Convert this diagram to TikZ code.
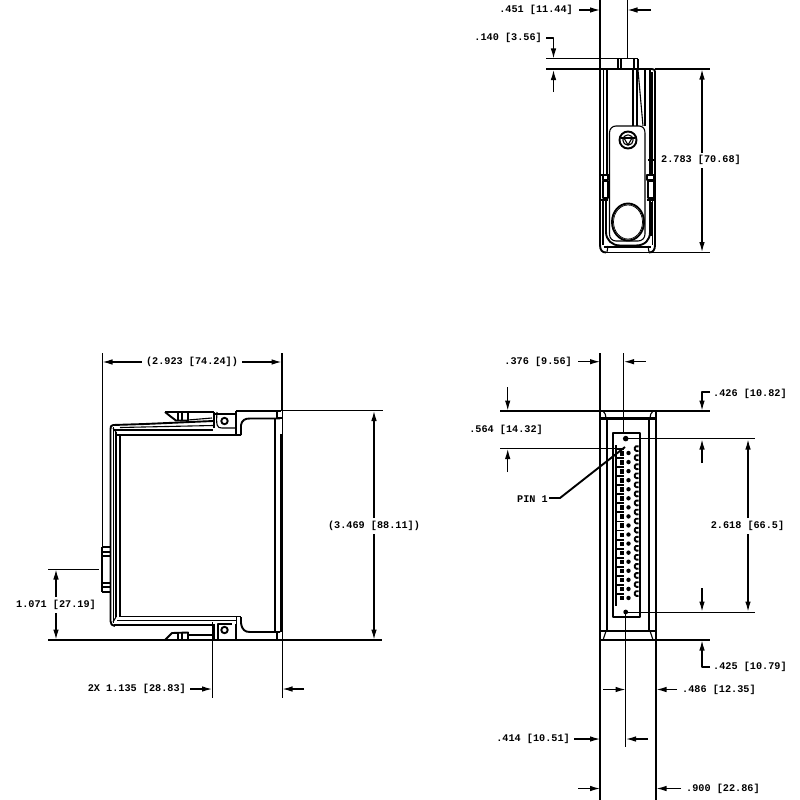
\documentclass[tikz,border=0pt]{standalone}
\usepackage{fontspec}
\setmonofont{Liberation Mono}
\usetikzlibrary{arrows.meta}
\tikzset{
  dim/.style={font=\ttfamily\bfseries\fontsize{10.2}{10.2}\selectfont,inner sep=0pt,text=black},
  ext/.style={line width=1pt},
  extb/.style={line width=1.7pt},
  lead/.style={line width=1.1pt,-{Latex[length=10pt,width=5.5pt]}},
  thin line/.style={line width=0.7pt},
  med/.style={line width=1.1pt},
  heavy/.style={line width=1.9pt},
  heavier/.style={line width=2.8pt}
}
\begin{document}
\begin{tikzpicture}[x=1pt,y=-1pt,line join=round]
\useasboundingbox (0,0) rectangle (800,800);
\fill[white] (0,0) rectangle (800,800);

%% ---------- TOP VIEW ----------
\node[dim,anchor=east] (t451) at (573,10) {.451 [11.44]};
\node[dim,anchor=east] (t140) at (542,38) {.140 [3.56]};
\node[dim,anchor=west] (t2783) at (661,160) {2.783 [70.68]};
\coordinate (a451l) at (600,10); \coordinate (a451r) at (627.5,10);
\draw[lead] (579,10) -- (a451l);
\draw[lead] (651,10) -- (a451r);
\draw[extb] (600,0) -- (600,69);
\draw[ext] (627,0) -- (627,58);
\draw[ext] (546,59) -- (638,59);
\draw[extb] (546,69) -- (600,69) (655,69) -- (710,69);
\draw[ext] (648,252.5) -- (710,252.5);
\draw[lead] (546,38) -- (553.5,38) -- (553.5,58.5);
\draw[lead] (553.5,92) -- (553.5,70);
\draw[lead] (702,153) -- (702,69.5);
\draw[lead] (702,168) -- (702,252);
% tab
\draw[med] (618,59) -- (618,69) (638,59) -- (638,69) (621,59) -- (621,69) (634,59) -- (634,69);
% body outline
\draw[heavy] (600,69) -- (600,245) .. controls (600,250) and (602,252.5) .. (606,252.5);
\draw[med] (600,69) -- (652,69);
\draw[med] (606,252.5) -- (649,252.5);
\draw[heavy] (652,69) .. controls (654,69) and (655,70) .. (655,72) -- (655,175);
\draw[heavy] (655,175) -- (655,245) .. controls (655,250) and (653,252.5) .. (649,252.5);
% long lines
\draw[med] (603.5,70) -- (603.5,175) (607,70) -- (607,175);
\draw[med] (650,70) -- (650,175) (645,70) -- (645,126) ;
\draw[med] (633,70) -- (633,126);
\draw[med] (637,70) -- (637,126);
\draw[med] (638,70) -- (643,126);
\draw[med] (652,72) -- (652,175);
\draw[heavy] (648,160) -- (654,160);
% side pieces
\draw[med] (603,175) rectangle (608,180);
\draw[med] (647,175) rectangle (654,180);
\draw[med] (603,181) rectangle (608,198);
\draw[med] (648,181) rectangle (654,198);
\draw[heavy] (601,175) -- (609,175) (647,175) -- (655,175);
\draw[heavy] (601,200) -- (608,200);
\draw[heavier] (647,200) -- (654,200);
% lower sides
\draw[heavy] (606,200) -- (606,232) .. controls (606,240) and (612,245.5) .. (620,245.5) -- (636,245.5) .. controls (645,245.5) and (650,240) .. (650,232) -- (650,200);
\draw[med] (603,200) -- (603,245) (652.5,200) -- (652.5,245);
\draw[heavier] (650.5,202) -- (650.5,236);
% bottom plate
\draw[med] (603.5,247) -- (651,247);
\draw[med] (608,246) -- (607,252) (648,246) -- (649,252);
% plate
\draw[med,fill=white] (609.5,234) -- (609.5,133) .. controls (609.5,129) and (612,126) .. (616,126) -- (639,126) .. controls (643,126) and (645,129) .. (645,133) -- (645,234) .. controls (645,238) and (642,241) .. (638,241) -- (616,241) .. controls (612,241) and (609.5,238) .. (609.5,234) -- cycle;
% screw
\draw[heavy,fill=white] (628,140) circle[radius=8.5];
\draw[med] (628,140) circle[radius=5.2];
\draw[med] (621,138) -- (635,138);
\draw[med] (624,138) -- (628,145) -- (632,138);
% big circle
\draw[heavy,fill=white] (628,222) ellipse[x radius=16,y radius=18.5];
\draw[thin line] (628,222) ellipse[x radius=14.5,y radius=17];

%% ---------- SIDE VIEW ----------
\node[dim] (t2923) at (192,362) {(2.923 [74.24])};
\node[dim] (t3469) at (374,526) {(3.469 [88.11])};
\node[dim] (t1071) at (56,605) {1.071 [27.19]};
\node[dim,anchor=east] (t1135) at (186,689) {2X 1.135 [28.83]};
\draw[ext] (102,353) -- (102,548);
\draw[extb] (282,353) -- (282,411);
\draw[ext] (282,411) -- (282,698);
\draw[ext] (236,410.5) -- (383,410.5);
\draw[extb] (48,640) -- (382,640);
\draw[ext] (48,569) -- (99,569);
\draw[ext] (212,622) -- (212,698);
\draw[lead] (t2923.west) ++(-4,0) -- (102.5,362);
\draw[lead] (t2923.east) ++(4,0) -- (281.5,362);
\draw[lead] (374,518) -- (374,411);
\draw[lead] (374,534) -- (374,639.5);
\draw[lead] (56,597) -- (56,569.5);
\draw[lead] (56,613) -- (56,639.5);
\draw[lead] (t1135.east) ++(4,0) -- (212,689);
\draw[lead] (304,689) -- (282.5,689);
% connector tab
\draw[med] (102,547) -- (110,547) (102,552) -- (110,552) (102,556) -- (110,556) (102,583) -- (110,583) (102,587) -- (110,587) (102,592) -- (110,592);
\draw[heavy] (102,547) -- (102,592);
% left wall
\draw[heavy] (113,425) .. controls (111,425) and (110.5,427) .. (110.5,429) -- (110.5,621) .. controls (110.5,624) and (112,626) .. (115,626);
\draw[med] (116,432) -- (116,617) (120,436) -- (120,617);
\draw[med] (113,428) -- (116,432) (113,622) -- (116,617);
\draw[med] (113.5,427) -- (113.5,623);
% top wall
\draw[heavy] (113,425) -- (145,424) -- (213,421);
\draw[heavy] (113,430) -- (213,430);
\draw[med] (120,427.5) -- (213,425.5);
\draw[heavier] (116,435) -- (241,435);
\draw[med] (236,428) -- (236,435);
\draw[heavy] (241,435) -- (241,425) .. controls (242,420) and (245,418.5) .. (250,418.5) -- (280,418.5);
\draw[ext] (236,411) -- (281,411);
% top hinge
\draw[heavy] (214,412) -- (214,428);
\draw[heavy] (236,411) -- (236,428);
\draw[med] (217,412) .. controls (216,426) and (217,428) .. (222,428) -- (236,428);
\draw[heavy] (224.5,421) circle[radius=3.2];
\draw[med] (214,414) -- (236,414);
% top latch
\draw[med] (165,412) -- (214,412);
\draw[heavy] (165,412) -- (170,416) -- (176,420.5) -- (188,420.5) -- (188,413);
\draw[med] (178,413) -- (178,420) (182,413) -- (182,420);
\draw[med] (188,420) -- (212,418);
% right wall
\draw[med] (275,418) -- (275,632);
\draw[heavy] (281,434) -- (281,632);
\draw[med] (277,411) -- (277,418) (276,418) -- (282,418);
% bottom wall
\draw[heavier] (114,625) -- (213,625);
\draw[heavy] (120,616.5) -- (241,616.5);
\draw[heavy] (117,620.5) -- (236,620.5);
\draw[heavy] (241,617) -- (241,623) .. controls (242,630) and (245,632) .. (250,632) -- (280,632);
\draw[ext] (236,617) -- (236,640);
% bottom hinge
\draw[heavy] (214,624) -- (214,640);
\draw[heavy] (235.5,624) -- (235.5,640);
\draw[med] (218,640) -- (218,624) -- (232,624);
\draw[heavy] (224.5,630) circle[radius=3.2];
% bottom latch
\draw[heavy] (165,640) -- (172,633) -- (188,632.5) -- (188,640);
\draw[med] (178,633) -- (178,640) (182,633) -- (182,640);
\draw[med] (188,635) -- (212,635);
\draw[med] (277,632) -- (277,640);

%% ---------- FRONT VIEW ----------
\node[dim,anchor=east] (t376) at (572,361.7) {.376 [9.56]};
\node[dim,anchor=west] (t426) at (713,394) {.426 [10.82]};
\node[dim,anchor=east] (t564) at (543,430) {.564 [14.32]};
\node[dim,anchor=east] (pin1) at (548,499) {PIN 1};
\node[dim] (t2618) at (747.5,526) {2.618 [66.5]};
\node[dim,anchor=west] (t425) at (713,667) {.425 [10.79]};
\node[dim,anchor=west] (t486) at (682,690) {.486 [12.35]};
\node[dim,anchor=east] (t414) at (570,739) {.414 [10.51]};
\node[dim,anchor=west] (t900) at (686,789) {.900 [22.86]};
% extension lines
\draw[extb] (600,353) -- (600,411);
\draw[extb] (600,640) -- (600,800);
\draw[extb] (656,640) -- (656,800);
\draw[ext] (623.5,353) -- (623.5,433);
\draw[ext] (625.7,612) -- (625.7,747);
\draw[extb] (500,411) -- (600,411) (656,411) -- (710,411);
\draw[ext] (500,448.6) -- (622,448.6);
\draw[extb] (623,438.6) -- (755,438.6);
\draw[ext] (625,612) -- (755,612);
\draw[extb] (656,640) -- (710,640);
% leaders and arrows
\draw[lead] (578,361.7) -- (600,361.7);
\draw[lead] (645.5,361.7) -- (624,361.7);
\draw[lead] (507.7,387) -- (507.7,410.5);
\draw[lead] (507.7,472) -- (507.7,449);
\draw[lead] (710,392) -- (702,392) -- (702,410.5);
\draw[lead] (702,463) -- (702,439.5);
\draw[lead] (702,588) -- (702,611.5);
\draw[lead] (748,518) -- (748,439.5);
\draw[lead] (748,534) -- (748,611.5);
\draw[lead] (710,667) -- (702,667) -- (702,640.5);
\draw[lead] (603,689.5) -- (625.5,689.5);
\draw[lead] (677,689.5) -- (656.5,689.5);
\draw[lead] (574,739) -- (600,739);
\draw[lead] (648,739) -- (626,739);
\draw[lead] (578,788.5) -- (600,788.5);
\draw[lead] (681,788.5) -- (656.5,788.5);
\draw[heavy] (pin1.east) ++(1,-1) -- (560,498) -- (625,447);
% body
\draw[heavy] (600,411) -- (600,640) (656,411) -- (656,640);
\draw[heavier] (600,418.5) -- (656,418.5);
\draw[heavier] (600,631) -- (656,631);
\draw[med] (607,418) -- (607,631) (649,418) -- (649,631);
\draw[med] (600,411) -- (656,411);
\draw[med] (603,411) .. controls (605,413) and (606,415) .. (606,418);
\draw[med] (653,411) .. controls (651,413) and (650,415) .. (650,418);
\draw[med] (600,640) -- (656,640);
\draw[med] (603,640) -- (606,631) (653,640) -- (650,631);
% connector
\draw[heavy] (613,433) rectangle (640,617);
\draw[med] (616,445) -- (616,606);
\fill (625.7,438.6) circle[radius=2.8];
\fill (625.7,612) circle[radius=2.4];
\foreach \r in {0,...,16}{
  \pgfmathsetmacro{\yy}{453+\r*9.06}
  \draw[heavy] (616.5,\yy-4) -- (624,\yy-4);
  \draw[med] (616.5,\yy-4) -- (616.5,\yy+3);
  \fill (620,\yy-2) rectangle (624,\yy+2.5);
  \fill (628.5,\yy) circle[radius=2.2];
  \draw[line width=1.9pt] (638.5,\yy-2.2) arc[start angle=60,end angle=300,radius=2.6];
}
\end{tikzpicture}
\end{document}
